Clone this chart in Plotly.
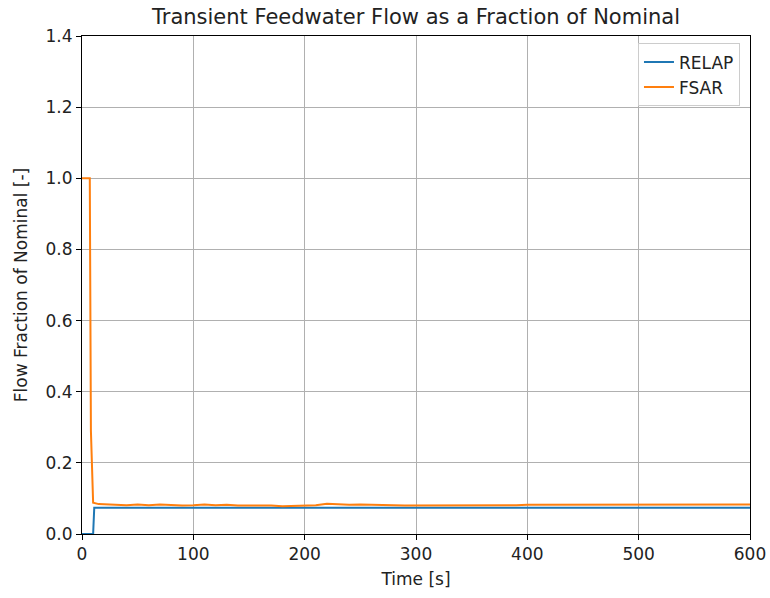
import plotly.graph_objects as go

relap_t = [0, 10, 11, 600]
relap_v = [0.0, 0.0, 0.074, 0.074]

fsar_t = [0, 7, 8, 10, 15, 20, 30, 40, 50, 60, 70, 80, 90, 100, 110, 120, 130, 140,
          150, 160, 170, 180, 190, 200, 210, 220, 230, 240, 250, 260, 270, 280, 290,
          300, 310, 320, 330, 340, 350, 360, 370, 380, 390, 400, 410, 420, 430, 440,
          450, 460, 470, 480, 490, 500, 510, 520, 530, 540, 550, 560, 570, 580, 590, 600]
fsar_v = [1.0, 1.0, 0.29, 0.088, 0.084, 0.083, 0.082, 0.081, 0.083, 0.081, 0.083, 0.081, 0.080, 0.081,
          0.083, 0.081, 0.082, 0.080, 0.080, 0.081, 0.080, 0.078, 0.079, 0.081, 0.081,
          0.085, 0.083, 0.082, 0.083, 0.083, 0.082, 0.081, 0.080,
          0.080, 0.080, 0.079, 0.079, 0.080, 0.079, 0.080, 0.080, 0.081, 0.081, 0.082,
          0.082, 0.082, 0.081, 0.081, 0.081, 0.081, 0.081, 0.081, 0.081, 0.082, 0.082,
          0.082, 0.082, 0.082, 0.083, 0.082, 0.083, 0.083, 0.083, 0.083]

x_ticks = [0, 100, 200, 300, 400, 500, 600]
y_ticks = [0.0, 0.2, 0.4, 0.6, 0.8, 1.0, 1.2, 1.4]

fig = go.Figure()
fig.add_trace(go.Scatter(x=relap_t, y=relap_v, mode="lines", name="RELAP",
                         line=dict(color="#1f77b4", width=2)))
fig.add_trace(go.Scatter(x=fsar_t, y=fsar_v, mode="lines", name="FSAR",
                         line=dict(color="#ff7f0e", width=2)))

axis_common = dict(showline=True, linecolor="black", linewidth=1, mirror=True,
                   showgrid=True, gridcolor="#b0b0b0", gridwidth=1,
                   ticks="outside", ticklen=5, tickcolor="black", zeroline=False,
                   automargin=False,
                   tickfont=dict(size=17, color="#222222"))

fig.update_layout(
    width=770, height=598,
    margin=dict(l=82, r=20, t=36, b=64),
    paper_bgcolor="white", plot_bgcolor="white",
    font=dict(family="DejaVu Sans", color="#222222"),
    title=dict(text="Transient Feedwater Flow as a Fraction of Nominal",
               x=0.5, xref="paper", xanchor="center", y=1 - 17/598, yanchor="middle",
               font=dict(size=21, color="#222222")),
    xaxis=dict(range=[0, 600], tickvals=x_ticks, ticktext=[str(v) for v in x_ticks],
               title=dict(text="Time [s]", font=dict(size=17), standoff=9), **axis_common),
    yaxis=dict(range=[0, 1.4], tickvals=y_ticks, ticktext=[f"{v:.1f}" for v in y_ticks],
               title=dict(text="Flow Fraction of Nominal [-]", font=dict(size=17), standoff=13),
               **axis_common),
    legend=dict(x=0.985, y=0.985, xanchor="right", yanchor="top",
                bgcolor="rgba(255,255,255,0.8)", bordercolor="#cccccc", borderwidth=1,
                font=dict(size=17), tracegroupgap=6),
    showlegend=True,
)

fig.write_html("out.html")
